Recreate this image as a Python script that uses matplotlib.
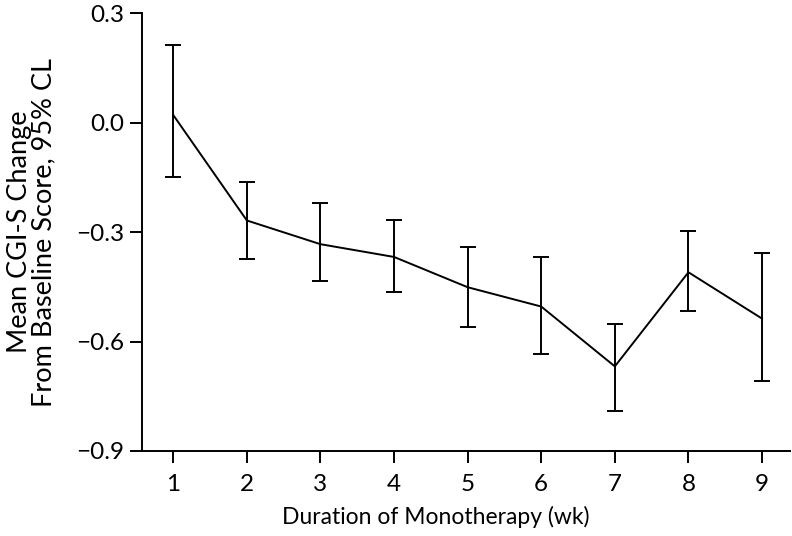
import matplotlib
matplotlib.use("Agg")
import matplotlib.pyplot as plt
import numpy as np

weeks = [1, 2, 3, 4, 5, 6, 7, 8, 9]
mean_change = [0.021, -0.268, -0.333, -0.368, -0.451, -0.504, -0.668, -0.410, -0.537]
upper_cl = [0.212, -0.162, -0.221, -0.266, -0.342, -0.367, -0.552, -0.296, -0.357]
lower_cl = [-0.148, -0.374, -0.433, -0.463, -0.561, -0.633, -0.790, -0.517, -0.709]
y_ticks = [0.3, 0.0, -0.3, -0.6, -0.9]
y_tick_labels = ["0.3", "0.0", "\u22120.3", "\u22120.6", "\u22120.9"]

plt.rcParams['font.family'] = ['Lato', 'DejaVu Sans']

fig = plt.figure(figsize=(7.92, 5.36), dpi=100)
ax = fig.add_axes([141.7/792, 1-451/536, (790-141.7)/792, (451-13.3)/536])

m = np.array(mean_change)
err = np.vstack([m - np.array(lower_cl), np.array(upper_cl) - m])
ax.errorbar(weeks, m, yerr=err, color='black', linewidth=1.4, elinewidth=1.4,
            capsize=5.5, capthick=1.4)

ax.set_xlim(0.571, 9.38)
ax.set_ylim(-0.9, 0.3)
ax.set_xticks(weeks)
ax.set_xticklabels([str(w) for w in weeks])
ax.set_yticks(y_ticks)
ax.set_yticklabels(y_tick_labels)
ax.spines['top'].set_visible(False)
ax.spines['right'].set_visible(False)
for s in ['left', 'bottom']:
    ax.spines[s].set_linewidth(1.4)
ax.tick_params(axis='both', length=8.5, width=1.4, labelsize=17.5)
ax.tick_params(axis='x', pad=8)
ax.tick_params(axis='y', pad=4)

ax.set_xlabel("Duration of Monotherapy (wk)", fontsize=16.5, labelpad=8)
ax.xaxis.label.set_x((436 - 141.7) / (790 - 141.7))
ax.set_ylabel("Mean CGI-S Change\nFrom Baseline Score, 95% CL", fontsize=19.5,
              labelpad=14, linespacing=1.0)

fig.savefig("out.png", dpi=100)
